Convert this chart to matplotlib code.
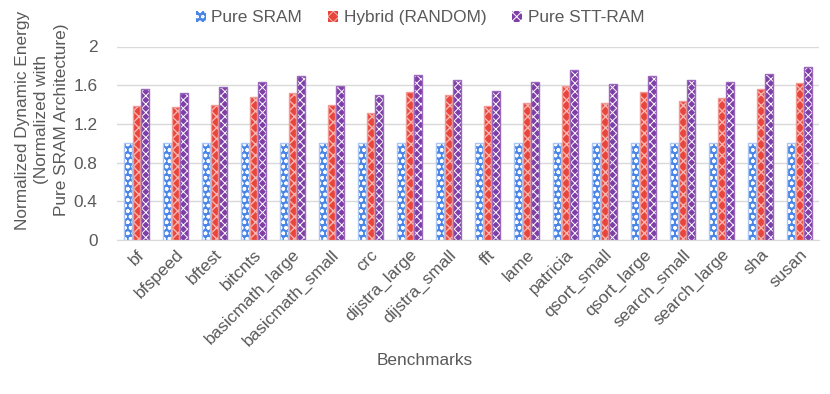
import matplotlib
matplotlib.use("Agg")
import matplotlib.pyplot as plt
import numpy as np

categories = ["bf", "bfspeed", "bftest", "bitcnts", "basicmath_large", "basicmath_small",
              "crc", "dijstra_large", "dijstra_small", "fft", "lame", "patricia",
              "qsort_small", "qsort_large", "search_small", "search_large", "sha", "susan"]
pure_sram = [1.0] * 18
hybrid_random = [1.39, 1.375, 1.40, 1.475, 1.52, 1.40, 1.31, 1.53, 1.495, 1.385, 1.415, 1.59,
                 1.415, 1.53, 1.44, 1.465, 1.56, 1.625]
pure_stt = [1.565, 1.52, 1.58, 1.63, 1.69, 1.59, 1.50, 1.71, 1.655, 1.54, 1.635, 1.76,
            1.61, 1.70, 1.655, 1.635, 1.715, 1.79]
series_names = ["Pure SRAM", "Hybrid (RANDOM)", "Pure STT-RAM"]
yticks = [0, 0.4, 0.8, 1.2, 1.6, 2.0]
ytick_labels = ["0", "0.4", "0.8", "1.2", "1.6", "2"]

plt.rcParams['font.family'] = ['Liberation Sans', 'DejaVu Sans']
txt = '#595959'
fs = 12.4

fig = plt.figure(figsize=(8.3, 3.94), dpi=100)
ax = fig.add_axes([117/830, 1 - 240/394, (819-117)/830, (240-46.5)/394])

x = np.arange(len(categories))
w = 0.205
step = 0.225

styles = [
    dict(face='#4A86E8', hatch='ooo', hcol='white', edge='#A9C6F5', hlw=1.0),
    dict(face='#E8453C', hatch='xxx', hcol='#F7B5B0', edge='#F29A94', hlw=1.0),
    dict(face='#7E3FA6', hatch='xxxx', hcol='white', edge='#9A68BC', hlw=0.7),
]
data = [pure_sram, hybrid_random, pure_stt]
handles = []
for i, (vals, st) in enumerate(zip(data, styles)):
    plt.rcParams['hatch.linewidth'] = st['hlw']
    pos = x + (i - 1) * step
    b = ax.bar(pos, vals, w, color=st['face'], edgecolor=st['hcol'], hatch=st['hatch'],
               linewidth=0, zorder=3)
    ax.bar(pos, vals, w, fill=False, edgecolor=st['edge'], linewidth=1.0, zorder=4)
    handles.append(b)

ax.set_xlim(-0.5, len(categories) - 0.5)
ax.set_ylim(0, 2.0)
ax.set_yticks(yticks)
ax.set_yticklabels(ytick_labels)
ax.yaxis.grid(True, color='#D9D9D9', linewidth=1.0, zorder=0)
ax.set_axisbelow(True)
for s in ['top', 'right', 'left']:
    ax.spines[s].set_visible(False)
ax.spines['bottom'].set_color('#D9D9D9')
ax.tick_params(axis='y', length=0, labelsize=fs, labelcolor=txt, pad=14)
ax.tick_params(axis='x', length=0, labelsize=fs, labelcolor=txt, pad=5)
ax.set_xticks(x)
ax.set_xticklabels(categories, rotation=45, ha='right', rotation_mode='anchor')

ax.set_ylabel("Normalized Dynamic Energy\n(Normalized with\nPure SRAM Architecture)",
              fontsize=fs, color=txt, linespacing=1.4, labelpad=3)
ax.yaxis.label.set_y((240 - 120) / 193.5)
ax.set_xlabel("Benchmarks", fontsize=fs, color=txt, labelpad=0)
ax.xaxis.set_label_coords((425 - 117) / 702, -(353 - 240) / 193.5)

leg = fig.legend(handles, series_names, loc='center', bbox_to_anchor=(0.506, 0.955), ncol=3,
                 frameon=False, fontsize=fs, handlelength=0.6, handleheight=0.6,
                 handletextpad=0.3, columnspacing=1.5)
for t in leg.get_texts():
    t.set_color(txt)

fig.savefig("out.png", dpi=100)
